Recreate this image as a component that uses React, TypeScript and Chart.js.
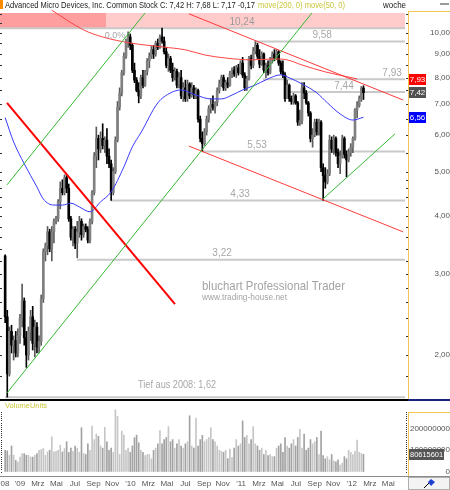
import React, { useEffect, useRef } from 'react';
import { Chart, registerables } from 'chart.js';

Chart.register(...registerables);

const FONT = '"Liberation Sans", Arial, Helvetica, sans-serif';
const WEEK_MS = 7 * 24 * 3600 * 1000;
const START = Date.UTC(2008, 10, 13); // week index 0

// ---- weekly OHLC (USD) ----
const opens = [
  3.28, 2.42, 1.82, 2.25, 2.10, 2.15, 2.02, 2.20, 2.40, 2.62,
  2.18, 2.00, 2.25, 2.42, 2.12, 2.30, 2.08, 2.14, 2.65, 3.35,
  3.45, 3.70, 3.40, 3.70, 3.90, 3.95, 4.30, 4.60, 4.50, 4.85,
  4.60, 3.95, 3.60, 3.75, 3.50, 3.70, 3.90, 3.65, 3.80, 3.75,
  3.55, 3.90, 4.50, 5.40, 5.90, 5.60, 5.90, 5.70, 5.85, 5.40,
  5.20, 4.50, 5.00, 5.85, 6.90, 7.40, 8.20, 8.90, 9.60, 9.80,
  9.40, 8.30, 7.90, 7.50, 7.30, 8.00, 7.70, 8.25, 8.70, 8.90,
  9.20, 9.00, 9.50, 9.30, 9.80, 9.60, 9.10, 8.50, 8.80, 8.30,
  8.00, 8.25, 7.70, 8.00, 7.30, 7.60, 7.20, 7.75, 7.30, 7.60,
  7.35, 7.50, 6.50, 5.90, 5.75, 6.10, 6.50, 6.85, 7.00, 6.90,
  7.05, 7.50, 7.75, 8.00, 7.60, 7.80, 7.70, 8.15, 8.30, 8.15,
  8.40, 8.20, 8.60, 8.10, 7.60, 7.95, 8.80, 8.50, 9.15, 9.40,
  8.90, 8.55, 9.00, 8.30, 8.50, 8.20, 8.75, 9.00, 8.80, 9.10,
  8.60, 8.25, 8.10, 7.20, 7.70, 7.20, 7.10, 7.30, 7.05, 6.40,
  6.45, 7.60, 7.40, 7.05, 6.70, 5.90, 6.00, 6.40, 6.10, 6.40,
  5.10, 4.90, 4.75, 4.95, 5.85, 5.60, 5.90, 5.50, 5.20, 5.40,
  5.90, 5.45, 5.30, 5.50, 5.65, 5.90, 6.80, 6.95, 7.20, 7.59,
];
const highs = [
  3.30, 2.50, 2.30, 2.32, 2.20, 2.25, 2.28, 2.45, 2.85, 2.66,
  2.25, 2.30, 2.50, 2.55, 2.38, 2.35, 2.20, 2.70, 3.40, 3.50,
  3.80, 3.75, 3.80, 3.95, 4.00, 4.35, 4.75, 4.80, 4.92, 4.90,
  4.70, 4.00, 3.80, 3.80, 3.90, 4.00, 3.95, 3.85, 3.85, 3.80,
  3.95, 4.55, 5.50, 6.25, 6.00, 6.10, 6.35, 5.95, 6.20, 5.60,
  5.30, 5.10, 5.95, 7.10, 7.60, 8.30, 9.05, 9.70, 10.05, 9.95,
  9.50, 8.60, 8.00, 7.80, 8.10, 8.30, 8.30, 8.80, 9.05, 9.35,
  9.40, 9.60, 9.70, 9.90, 10.24, 9.80, 9.30, 9.00, 8.90, 8.60,
  8.40, 8.35, 8.20, 8.30, 7.80, 7.90, 7.90, 7.80, 7.80, 7.70,
  7.60, 7.55, 6.60, 6.10, 6.20, 6.60, 6.95, 7.20, 7.30, 7.10,
  7.60, 7.90, 8.10, 8.10, 7.90, 8.00, 8.25, 8.40, 8.45, 8.50,
  8.55, 8.70, 8.85, 8.20, 8.05, 8.90, 8.95, 9.30, 9.58, 9.50,
  9.20, 9.10, 9.05, 8.60, 8.70, 8.85, 9.10, 9.20, 9.20, 9.15,
  8.70, 8.70, 8.20, 7.90, 7.75, 7.30, 7.40, 7.35, 7.10, 6.80,
  7.80, 7.80, 7.50, 7.10, 6.75, 6.20, 6.50, 6.50, 6.50, 6.45,
  5.20, 5.10, 5.05, 6.00, 5.95, 6.00, 5.95, 5.60, 5.55, 6.00,
  5.95, 5.55, 5.60, 5.75, 5.95, 6.85, 7.10, 7.30, 7.65, 7.68,
];
const lows = [
  2.35, 1.62, 1.80, 2.02, 1.95, 1.98, 1.98, 2.12, 2.30, 2.10,
  1.88, 1.95, 2.15, 2.05, 1.98, 2.02, 2.02, 2.10, 2.60, 3.20,
  3.30, 3.35, 3.20, 3.50, 3.85, 3.90, 4.15, 4.45, 4.45, 4.50,
  3.90, 3.55, 3.45, 3.40, 3.25, 3.60, 3.55, 3.60, 3.70, 3.50,
  3.50, 3.85, 4.45, 5.10, 5.30, 5.50, 5.60, 5.50, 5.20, 5.10,
  4.33, 4.45, 4.95, 5.80, 6.80, 7.30, 8.10, 8.80, 9.30, 9.20,
  8.20, 7.80, 7.45, 7.05, 7.20, 7.60, 7.65, 8.10, 8.40, 8.80,
  8.80, 8.90, 9.20, 9.25, 9.50, 9.00, 8.40, 8.25, 8.20, 7.85,
  7.90, 7.60, 7.60, 7.20, 7.10, 7.10, 7.10, 7.20, 7.25, 7.20,
  7.20, 6.40, 5.80, 5.53, 5.70, 6.00, 6.40, 6.70, 6.80, 6.70,
  6.95, 7.40, 7.65, 7.50, 7.50, 7.60, 7.65, 8.00, 8.05, 8.00,
  8.10, 8.15, 8.00, 7.50, 7.50, 7.90, 8.35, 8.40, 9.00, 8.80,
  8.40, 8.50, 8.20, 8.00, 8.10, 8.15, 8.60, 8.70, 8.75, 8.50,
  8.15, 8.00, 7.10, 7.20, 7.10, 7.00, 7.00, 7.00, 6.30, 6.30,
  6.35, 7.20, 7.00, 6.60, 5.80, 5.65, 5.95, 6.00, 6.00, 5.00,
  4.33, 4.60, 4.70, 4.90, 5.50, 5.45, 5.40, 5.10, 4.95, 5.35,
  5.35, 4.87, 5.25, 5.40, 5.50, 5.85, 6.55, 6.90, 7.10, 7.17,
];
const closes = [
  2.42, 1.82, 2.25, 2.10, 2.15, 2.02, 2.20, 2.40, 2.62, 2.18,
  2.00, 2.25, 2.42, 2.12, 2.30, 2.08, 2.14, 2.65, 3.35, 3.45,
  3.70, 3.40, 3.70, 3.90, 3.95, 4.30, 4.60, 4.50, 4.85, 4.60,
  3.95, 3.60, 3.75, 3.50, 3.70, 3.90, 3.65, 3.80, 3.75, 3.55,
  3.90, 4.50, 5.40, 5.90, 5.60, 5.90, 5.70, 5.85, 5.40, 5.20,
  4.50, 5.00, 5.85, 6.90, 7.40, 8.20, 8.90, 9.60, 9.80, 9.40,
  8.30, 7.90, 7.50, 7.30, 8.00, 7.70, 8.25, 8.70, 8.90, 9.20,
  9.00, 9.50, 9.30, 9.80, 9.60, 9.10, 8.50, 8.80, 8.30, 8.00,
  8.25, 7.70, 8.00, 7.30, 7.60, 7.20, 7.75, 7.30, 7.60, 7.35,
  7.50, 6.50, 5.90, 5.75, 6.10, 6.50, 6.85, 7.00, 6.90, 7.05,
  7.50, 7.75, 8.00, 7.60, 7.80, 7.70, 8.15, 8.30, 8.15, 8.40,
  8.20, 8.60, 8.10, 7.60, 7.95, 8.80, 8.50, 9.15, 9.40, 8.90,
  8.55, 9.00, 8.30, 8.50, 8.20, 8.75, 9.00, 8.80, 9.10, 8.60,
  8.25, 8.10, 7.20, 7.70, 7.20, 7.10, 7.30, 7.05, 6.40, 6.45,
  7.60, 7.40, 7.05, 6.70, 5.90, 6.00, 6.40, 6.10, 6.40, 5.10,
  4.90, 4.75, 4.95, 5.85, 5.60, 5.90, 5.50, 5.20, 5.40, 5.90,
  5.45, 5.30, 5.50, 5.65, 5.90, 6.80, 6.95, 7.20, 7.59, 7.42,
];
// weekly volume, millions of units
const volumes = [
  100, 97, 76, 120, 76, 52, 44, 68, 84, 84,
  76, 76, 68, 68, 76, 84, 100, 103, 108, 76,
  92, 100, 163, 92, 95, 100, 124, 92, 108, 140,
  90, 110, 95, 120, 110, 90, 206, 85, 80, 130,
  100, 214, 150, 176, 165, 120, 110, 208, 140, 100,
  110, 90, 290, 259, 80, 190, 171, 100, 110, 90,
  120, 159, 171, 135, 100, 90, 75, 80, 80, 60,
  100, 110, 130, 192, 130, 150, 160, 211, 140, 150,
  110, 130, 150, 120, 110, 130, 140, 262, 120, 110,
  251, 120, 150, 170, 140, 150, 160, 206, 150, 140,
  120, 100, 95, 90, 100, 60, 105, 65, 110, 150,
  120, 130, 238, 160, 170, 130, 150, 211, 130, 120,
  100, 110, 80, 100, 75, 80, 70, 70, 110, 120,
  130, 90, 160, 120, 110, 130, 150, 120, 160, 198,
  110, 176, 100, 110, 150, 130, 140, 160, 80, 190,
  75, 60, 70, 55, 80, 50, 45, 55, 30, 40,
  70, 60, 100, 90, 80, 95, 148, 90, 85, 80.615601,
];

// ---- moving averages (week index, value) ----
const ma50Idx = [0, 4, 9, 15, 18, 23, 27, 31, 35, 40, 45, 50, 56, 60, 64, 72, 78, 83, 90, 97, 102, 107, 112, 118, 123, 130, 134, 140, 147, 152, 158, 164, 169];
const ma50Val = [6.55, 5.80, 5.20, 4.63, 4.36, 4.23, 4.23, 4.27, 4.19, 4.09, 4.30, 4.52, 5.12, 5.66, 6.07, 7.05, 7.41, 7.52, 7.33, 7.19, 7.19, 7.33, 7.52, 7.71, 7.91, 8.11, 7.99, 7.75, 7.41, 7.05, 6.67, 6.47, 6.56];
const ma200Idx = [22, 37, 46, 59, 74.5, 85, 94, 104, 116, 127, 133, 140, 151, 166];
const ma200Val = [11.2, 10.15, 9.8, 9.51, 9.32, 9.19, 8.96, 8.82, 8.74, 8.78, 8.74, 8.52, 8.23, 7.95];

// ---- trend lines ----
const trendFromIdx = [0.87, 0.87, 149.9, 0.87, 86.7, 86.7];
const trendFromVal = [1.654, 4.68, 4.36, 7.05, 11.0, 5.68];
const trendToIdx = [144.7, 66.0, 183.9, 80.1, 187.7, 187.7];
const trendToVal = [11.05, 11.05, 6.04, 2.58, 7.15, 3.70];

// ---- horizontal levels ----
const levelValues = [10.24, 9.58, 7.93, 7.44, 5.53, 4.33, 3.22, 1.62];
const levelFromIdx = [-2.43, 117.8, 121.6, 132.9, 92.9, 49.9, 33.9, 0];
const levelToIdx = 188.6;
const bandTop = 11.05;
const bandSplitIdx = 47.6;

// ---- axis ticks ----
const tickDates: [number, number, number][] = [
  [2008, 10, 10], [2009, 0, 1], [2009, 2, 1], [2009, 4, 1], [2009, 6, 1], [2009, 8, 1], [2009, 10, 1],
  [2010, 0, 1], [2010, 2, 1], [2010, 4, 1], [2010, 6, 1], [2010, 8, 1], [2010, 10, 1],
  [2011, 0, 1], [2011, 2, 1], [2011, 4, 1], [2011, 6, 1], [2011, 8, 1], [2011, 10, 1],
  [2012, 0, 1], [2012, 2, 1], [2012, 4, 1],
];
const tickLabels = ["'08", "'09", 'Mrz', 'Mai', 'Jul', 'Sep', 'Nov', "'10", 'Mrz', 'Mai', 'Jul', 'Sep', 'Nov', "'11", 'Mrz', 'Mai', 'Jul', 'Sep', 'Nov', "'12", 'Mrz', 'Mai'];
const priceTicks = [2, 3, 4, 5, 6, 7, 8, 9, 10];
const minorPriceTicks = [1.8, 2, 2.2, 2.4, 2.6, 2.8, 3, 3.2, 3.4, 3.6, 3.8, 4, 4.2, 4.4, 4.6, 4.8, 5, 5.5, 6, 6.5, 7, 7.5, 8, 8.5, 9, 9.5, 10, 10.5, 11];
const volumeTicks = [0, 100000000, 200000000];

// ---- layout / style (not data) ----
const levelLabelIdx = [111.7, 149.5, 182.5, 159.8, 118.8, 110.8, 102.3, null];
const trendColors = ['#35b835', '#35b835', '#35b835', '#ff0000', '#ff3a3a', '#ff3a3a'];
const trendWidths = [1, 1, 1, 2, 1, 1];

const fmt2 = (v: number) => v.toFixed(2).replace('.', ',');
const idxOf = ([y, m, d]: [number, number, number]) => (Date.UTC(y, m, d) - START) / WEEK_MS;

export default function App() {
  const ref = useRef<HTMLCanvasElement>(null);

  useEffect(() => {
    document.body.style.margin = '0';
    const canvas = ref.current;
    if (!canvas) return;
    const n = closes.length;
    const up = closes.map((c, i) => c >= opens[i]);
    const tickIdx = tickDates.map(idxOf);

    const datasets: any[] = [];
    // pink resistance band
    datasets.push({
      type: 'line', yAxisID: 'y', order: 20, pointRadius: 0, borderWidth: 0, borderColor: 'rgba(0,0,0,0)',
      data: [{ x: levelFromIdx[0], y: levelValues[0] }, { x: bandSplitIdx, y: levelValues[0] }],
      fill: { value: bandTop }, backgroundColor: '#ff9e9e',
    });
    datasets.push({
      type: 'line', yAxisID: 'y', order: 20, pointRadius: 0, borderWidth: 0, borderColor: 'rgba(0,0,0,0)',
      data: [{ x: bandSplitIdx, y: levelValues[0] }, { x: levelToIdx, y: levelValues[0] }],
      fill: { value: bandTop }, backgroundColor: '#ffcbcb',
    });
    // level lines
    levelValues.forEach((v, k) => {
      datasets.push({
        type: 'line', yAxisID: 'y', order: 15, pointRadius: 0, borderWidth: 2, borderColor: '#c9c9c9',
        data: [{ x: levelFromIdx[k], y: v }, { x: levelToIdx, y: v }],
      });
    });
    // volume
    datasets.push({
      type: 'bar', yAxisID: 'yVol', order: 12, grouped: false, barThickness: 1,
      data: volumes.map((v, i) => ({ x: i, y: v * 1e6 })),
      backgroundColor: up.map((u) => (u ? '#c6c6c6' : '#a2a2a2')),
    });
    // wicks
    datasets.push({
      type: 'bar', yAxisID: 'y', order: 7, grouped: false, barThickness: 1,
      data: closes.map((_, i) => ({ x: i, y: [lows[i], highs[i]] })),
      backgroundColor: up.map((u) => (u ? '#5a5a5a' : '#000000')),
    });
    // bodies
    datasets.push({
      type: 'bar', yAxisID: 'y', order: 6, grouped: false, barThickness: 2, minBarLength: 1,
      data: closes.map((c, i) => ({ x: i, y: [opens[i], c] })),
      backgroundColor: up.map((u) => (u ? '#808080' : '#000000')),
    });
    // moving averages
    datasets.push({
      type: 'line', yAxisID: 'y', order: 4, pointRadius: 0, borderWidth: 1, borderColor: '#3a3aff',
      cubicInterpolationMode: 'monotone',
      data: ma50Idx.map((x, k) => ({ x, y: ma50Val[k] })),
    });
    datasets.push({
      type: 'line', yAxisID: 'y', order: 4, pointRadius: 0, borderWidth: 1, borderColor: '#ff4444',
      cubicInterpolationMode: 'monotone',
      data: ma200Idx.map((x, k) => ({ x, y: ma200Val[k] })),
    });
    // trend lines
    trendFromIdx.forEach((x0, k) => {
      datasets.push({
        type: 'line', yAxisID: 'y', order: 3, pointRadius: 0, borderWidth: trendWidths[k], borderColor: trendColors[k],
        data: [{ x: x0, y: trendFromVal[k] }, { x: trendToIdx[k], y: trendToVal[k] }],
      });
    });

    const decor = {
      id: 'decor',
      beforeDraw(chart: any) {
        const c = chart.ctx;
        c.save();
        c.fillStyle = '#ffffff';
        c.fillRect(0, 0, chart.width, chart.height);
        c.restore();
      },
      afterDraw(chart: any) {
        const c = chart.ctx as CanvasRenderingContext2D;
        const xs = chart.scales.x, ys = chart.scales.y, yv = chart.scales.yVol;
        const R = Math.round(chart.chartArea.right);
        const W = chart.width;
        c.save();

        // level labels
        c.textAlign = 'center';
        c.textBaseline = 'bottom';
        levelValues.forEach((v, k) => {
          const li = levelLabelIdx[k];
          if (li == null) return;
          c.font = `10px ${FONT}`;
          c.fillStyle = k === 0 ? '#9a9a9a' : '#a8a8a8';
          c.fillText(fmt2(v), xs.getPixelForValue(li), ys.getPixelForValue(v) - 1);
        });
        c.font = `9px ${FONT}`;
        c.fillStyle = '#a8a8a8';
        c.textBaseline = 'top';
        c.fillText('0,0%', xs.getPixelForValue(51.8), ys.getPixelForValue(levelValues[0]) + 3);
        c.textAlign = 'left';
        c.textBaseline = 'bottom';
        c.font = `10px ${FONT}`;
        c.fillText('Tief aus 2008: ' + fmt2(levelValues[7]), xs.getPixelForValue(62.7), ys.getPixelForValue(levelValues[7]) - 7, 78);

        // watermark
        c.fillStyle = '#a4a4a4';
        c.textBaseline = 'middle';
        c.font = `13px ${FONT}`;
        c.fillText('bluchart Professional Trader', 202, 286, 143);
        c.font = `9px ${FONT}`;
        c.fillText('www.trading-house.net', 202, 298, 85);

        // separators & axis lines
        c.fillStyle = '#000000';
        c.fillRect(0, 399, R, 2);
        c.fillStyle = '#1a237e';
        c.fillRect(R, 399, W - R, 2);
        c.fillStyle = '#f2c64e';
        c.fillRect(R, 11, 1, 388);
        c.fillRect(R, 11, W - R, 1);
        c.fillRect(R, 412, 1, 65);
        c.fillRect(R, 412, W - R, 1);
        c.fillStyle = '#8a8a8a';
        c.fillRect(0, 476, W, 1);

        // minor ticks
        c.fillStyle = '#333333';
        minorPriceTicks.forEach((v) => {
          const y = Math.round(ys.getPixelForValue(v));
          if (y < 12 || y > 398) return;
          c.fillRect(R - 2, y, 2, 1);
          c.fillRect(0, y, 2, 1);
        });
        for (let m = 0; m <= 280; m += 10) {
          const y = Math.round(yv.getPixelForValue(m * 1e6));
          c.fillRect(R - 2, y, 1, 1);
          c.fillRect(1, y, 1, 1);
        }

        // value boxes on the price axis
        const boxes: [number, string][] = [
          [levelValues[2], '#ff0000'],
          [closes[n - 1], '#505050'],
          [ma50Val[ma50Val.length - 1], '#0000ff'],
        ];
        c.font = `8px ${FONT}`;
        c.textAlign = 'center';
        c.textBaseline = 'middle';
        boxes.forEach(([v, col]) => {
          const y = ys.getPixelForValue(v);
          c.fillStyle = col;
          c.fillRect(R + 1, Math.round(y - 5.5), 17, 11);
          c.fillStyle = '#ffffff';
          c.fillText(fmt2(v), R + 9.5, y + 0.5, 16);
        });
        // volume value box
        const lastVol = Math.round(volumes[n - 1] * 1e6);
        const vy = yv.getPixelForValue(lastVol);
        c.fillStyle = '#555555';
        c.fillRect(R + 1, Math.round(vy - 5.5), 35, 11);
        c.fillStyle = '#ffffff';
        c.fillText(String(lastVol), R + 18.5, vy + 0.5, 33);

        // volume label
        c.textAlign = 'left';
        c.fillStyle = '#cfc83a';
        c.font = `8px ${FONT}`;
        c.fillText('VolumeUnits', 5, 405.5, 42);

        // title bar
        c.fillStyle = '#ff8c00';
        c.fillRect(0, 0, 3, 9);
        const last = n - 1;
        const chg = closes[last] - closes[last - 1];
        const head = `Advanced Micro Devices, Inc. Common Stock C: ${fmt2(closes[last])} H: ${fmt2(highs[last])} L: ${fmt2(lows[last])} ${fmt2(chg)}`;
        c.font = `9px ${FONT}`;
        c.fillStyle = '#1a1a1a';
        c.fillText(head, 5, 5.5, 250);
        c.fillStyle = '#c9c63a';
        c.fillText('move(200, 0) move(50, 0)', 258, 5.5, 87);
        c.fillStyle = '#1a1a1a';
        c.fillText('woche', 383, 5.5, 23);
        c.fillStyle = '#9a9a9a';
        c.fillRect(440, 3, 9, 2);

        // bottom-right tool box
        c.fillStyle = '#f3f3f3';
        c.fillRect(R + 1, 477, W - R - 1, 13);
        c.strokeStyle = '#b0b0b0';
        c.strokeRect(R + 0.5, 477.5, W - R - 1, 12);
        c.strokeStyle = '#000000';
        c.beginPath();
        c.moveTo(424, 488);
        c.lineTo(430, 482);
        c.stroke();
        c.fillStyle = '#1f3fd0';
        c.beginPath();
        c.moveTo(431, 479);
        c.lineTo(435, 482);
        c.lineTo(431, 486);
        c.lineTo(428, 482);
        c.closePath();
        c.fill();

        c.restore();
      },
    };

    const fitY = (s: any) => {
      s.width = 42;
      s.paddingTop = 0;
      s.paddingBottom = 0;
    };

    const chart = new Chart(canvas, {
      type: 'bar',
      data: { datasets },
      plugins: [decor],
      options: {
        animation: false,
        responsive: false,
        maintainAspectRatio: false,
        events: [],
        layout: { padding: { top: 9, left: 0, right: 0, bottom: 0 } },
        plugins: { legend: { display: false }, tooltip: { enabled: false } },
        scales: {
          x: {
            type: 'linear',
            min: -2.43,
            max: 190,
            offset: false,
            bounds: 'data',
            grid: { display: false, drawTicks: false, offset: false },
            border: { display: false },
            ticks: {
              autoSkip: false,
              maxRotation: 0,
              minRotation: 0,
              padding: 3,
              color: '#555555',
              font: { size: 8, family: FONT },
              callback: (_v: any, i: number) => tickLabels[i],
            },
            afterBuildTicks: (s: any) => {
              s.ticks = tickIdx.map((v) => ({ value: v }));
            },
            afterFit: (s: any) => {
              s.height = 14;
              s.paddingLeft = 0;
              s.paddingRight = 0;
            },
          },
          y: {
            type: 'logarithmic',
            position: 'right',
            stack: 'right',
            stackWeight: 391,
            min: 1.597,
            max: 11.27,
            bounds: 'data',
            grid: { display: false, drawTicks: false },
            border: { display: false },
            ticks: {
              crossAlign: 'far',
              padding: 20,
              color: '#555555',
              font: { size: 8, family: FONT },
              callback: (v: any) => fmt2(Number(v)),
            },
            afterBuildTicks: (s: any) => {
              s.ticks = priceTicks.map((v) => ({ value: v }));
            },
            afterFit: fitY,
          },
          yVol: {
            type: 'linear',
            position: 'right',
            stack: 'right',
            stackWeight: 76,
            min: -21e6,
            max: 336e6,
            bounds: 'data',
            grid: { display: false, drawTicks: false },
            border: { display: false },
            ticks: {
              crossAlign: 'far',
              padding: 2,
              color: '#555555',
              font: { size: 8, family: FONT },
              callback: (v: any) => String(Math.round(Number(v))),
            },
            afterBuildTicks: (s: any) => {
              s.ticks = volumeTicks.map((v) => ({ value: v }));
            },
            afterFit: fitY,
          },
        },
      } as any,
    });

    return () => chart.destroy();
  }, []);

  return (
    <div style={{ width: 450, height: 490 }}>
      <canvas ref={ref} width={450} height={490} style={{ display: 'block', width: 450, height: 490 }} />
    </div>
  );
}
